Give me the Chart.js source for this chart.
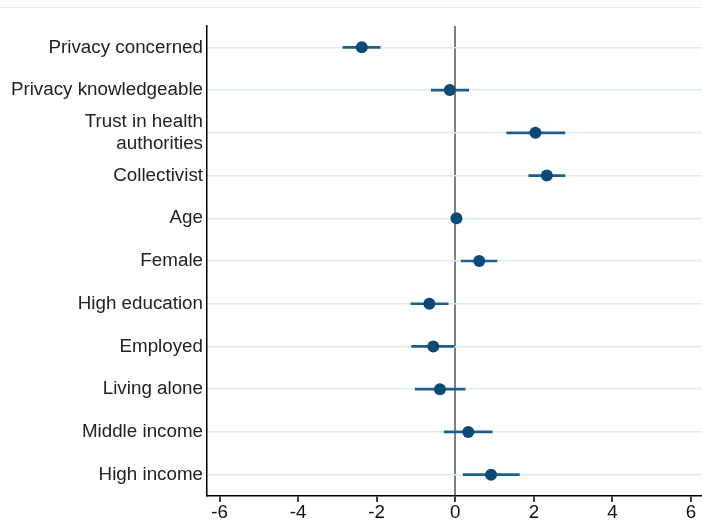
<!DOCTYPE html>
<html>
<head>
<meta charset="utf-8">
<script src="https://cdn.jsdelivr.net/npm/chart.js@4/dist/chart.umd.min.js"></script>
<style>
  html, body { margin: 0; padding: 0; background: #fff; }
  #wrap { position: relative; width: 702px; height: 521px; }
  #rule { position: absolute; left: 0; top: 7px; width: 702px; height: 1px; background: #ececec; }
  canvas { position: absolute; left: 0; top: 0; }
</style>
</head>
<body>
<div id="wrap">
  <div id="rule"></div>
  <canvas id="c" width="702" height="521"></canvas>
</div>
<script>
// Coefficient plot: point estimates with 95% confidence intervals
const categories = [
  'Privacy concerned',
  'Privacy knowledgeable',
  ['Trust in health', 'authorities'],
  'Collectivist',
  'Age',
  'Female',
  'High education',
  'Employed',
  'Living alone',
  'Middle income',
  'High income'
];
const estimates = [-2.38, -0.14, 2.04, 2.33, 0.03, 0.61, -0.66, -0.56, -0.39, 0.33, 0.91];
const ciLow     = [-2.86, -0.61, 1.31, 1.87, 0.00, 0.15, -1.13, -1.11, -1.02, -0.28, 0.20];
const ciHigh    = [-1.91,  0.34, 2.79, 2.79, 0.06, 1.06, -0.18, -0.03,  0.25,  0.94, 1.63];
const xTicks    = [-6, -4, -2, 0, 2, 4, 6];

const FONT = { family: '"Liberation Sans", Arial, sans-serif', size: 18.8 };

new Chart(document.getElementById('c'), {
  type: 'bar',
  data: {
    labels: categories,
    datasets: [
      {
        type: 'bar',
        data: categories.map((_, i) => [ciLow[i], ciHigh[i]]),
        backgroundColor: '#1b5e8a',
        borderWidth: 0,
        barThickness: 2,
        order: 2
      },
      {
        type: 'scatter',
        data: estimates.map((v, i) => ({ x: v, y: i })),
        backgroundColor: '#0b4a76',
        borderColor: '#0b4a76',
        pointRadius: 6,
        pointHoverRadius: 6,
        borderWidth: 0,
        order: 1
      }
    ]
  },
  options: {
    indexAxis: 'y',
    responsive: false,
    animation: false,
    layout: { autoPadding: false, padding: { top: 26, left: 0, right: 0, bottom: 0 } },
    plugins: { legend: { display: false }, tooltip: { enabled: false } },
    scales: {
      x: {
        type: 'linear',
        z: 0,
        min: -6.32,
        max: 6.28,
        afterBuildTicks: s => { s.ticks = xTicks.map(v => ({ value: v })); },
        afterFit: s => { s.height = 25; s.paddingLeft = 0; s.paddingRight = 0; },
        border: { display: true, color: '#000', width: 1.5 },
        grid: {
          drawOnChartArea: true,
          color: ctx => (ctx.tick && ctx.tick.value === 0) ? '#7e7e7e' : 'rgba(0,0,0,0)',
          lineWidth: 2,
          tickColor: '#000',
          tickWidth: 1.5,
          tickLength: 6
        },
        ticks: {
          color: '#111',
          font: FONT,
          padding: 0,
          maxRotation: 0,
          autoSkip: false,
          callback: v => String(v)
        }
      },
      y: {
        type: 'category',
        z: -1,
        offset: true,
        afterFit: s => { s.width = 207; },
        border: { display: true, color: '#000', width: 1.5 },
        grid: {
          offset: false,
          drawTicks: false,
          color: '#dcebed',
          lineWidth: 1.5
        },
        ticks: {
          color: '#222',
          font: FONT,
          padding: 4,
          autoSkip: false
        }
      }
    }
  }
});
</script>
</body>
</html>
